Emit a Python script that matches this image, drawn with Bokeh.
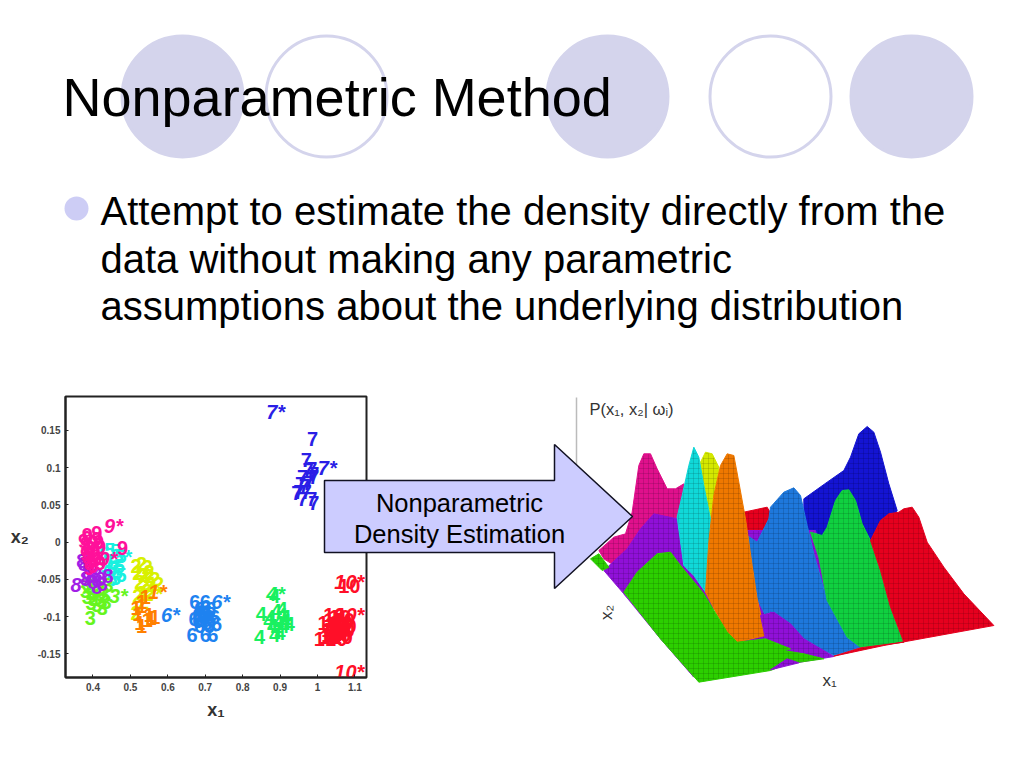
from bokeh.plotting import figure
from bokeh.layouts import column
from bokeh.models import FixedTicker
from bokeh.core.properties import value
from bokeh.embed import file_html
from bokeh.resources import INLINE

# ---- slide text
title = "Nonparametric Method"
body_lines = ["Attempt to estimate the density directly from the",
              "data without making any parametric",
              "assumptions about the underlying distribution"]
arrow_lines = ["Nonparametric", "Density Estimation"]

# ---- scatter classes (x1, x2, label)
c7x = [0.888, 1.026, 0.987, 0.97, 0.975, 0.985, 0.99, 0.96, 0.98, 0.965, 0.95, 0.97, 0.945, 0.96, 0.985, 0.99, 0.975, 0.955, 0.99]
c7y = [0.175, 0.100, 0.138, 0.110, 0.097, 0.098, 0.088, 0.088, 0.085, 0.075, 0.068, 0.068, 0.066, 0.058, 0.058, 0.052, 0.08, 0.078, 0.092]
c7t = ["7*", "7*"] + ["7"] * 17
c9x = [0.455, 0.44, 0.479, 0.41, 0.385, 0.40, 0.415, 0.38, 0.395, 0.42, 0.39, 0.405, 0.385, 0.41, 0.395, 0.375, 0.42, 0.40, 0.385, 0.41, 0.39, 0.405, 0.38]
c9y = [0.022, -0.022, -0.008, 0.012, 0.005, 0.0, 0.0, -0.002, -0.008, -0.006, -0.014, -0.015, -0.02, -0.022, -0.026, 0.002, -0.028, -0.032, 0.01, 0.004, -0.035, -0.011, -0.016]
c9t = ["9*", "9*"] + ["9"] * 21
c5x = [0.478, 0.445, 0.46, 0.475, 0.44, 0.455, 0.47, 0.45, 0.465, 0.44, 0.475, 0.46, 0.435, 0.45, 0.43]
c5y = [-0.02, -0.01, -0.012, -0.018, -0.025, -0.028, -0.032, -0.036, -0.04, -0.042, -0.044, -0.048, -0.034, -0.05, -0.016]
c5t = ["5*"] + ["5"] * 14
c8x = [0.365, 0.385, 0.375, 0.40, 0.385, 0.41, 0.395, 0.42, 0.40, 0.38, 0.425, 0.41, 0.44, 0.39, 0.37]
c8y = [-0.058, -0.022, -0.03, -0.034, -0.04, -0.044, -0.046, -0.05, -0.054, -0.05, -0.056, -0.06, -0.046, -0.016, -0.026]
c8t = ["8*"] + ["8"] * 14
c3x = [0.393, 0.468, 0.39, 0.405, 0.42, 0.38, 0.395, 0.41, 0.43, 0.385, 0.40, 0.42, 0.435, 0.41, 0.425, 0.395, 0.44, 0.385]
c3y = [-0.102, -0.072, -0.06, -0.058, -0.062, -0.066, -0.068, -0.066, -0.07, -0.074, -0.076, -0.078, -0.08, -0.084, -0.088, -0.082, -0.058, -0.056]
c3t = ["3", "3*"] + ["3"] * 16
c2x = [0.56, 0.515, 0.53, 0.545, 0.52, 0.535, 0.55, 0.565, 0.525, 0.54, 0.555, 0.575, 0.53, 0.545, 0.52, 0.535, 0.55, 0.515]
c2y = [-0.07, -0.032, -0.03, -0.034, -0.042, -0.044, -0.04, -0.05, -0.054, -0.056, -0.058, -0.056, -0.068, -0.066, -0.072, -0.08, -0.046, -0.095]
c2t = ["2*"] + ["2"] * 17
c1x = [0.572, 0.53, 0.555, 0.515, 0.53, 0.52, 0.54, 0.525, 0.55, 0.565, 0.53, 0.545]
c1y = [-0.067, -0.112, -0.102, -0.088, -0.08, -0.096, -0.074, -0.108, -0.098, -0.1, -0.086, -0.105]
c1t = ["1*"] + ["1"] * 11
c6x = [0.607, 0.741, 0.672, 0.665, 0.70, 0.72, 0.685, 0.70, 0.715, 0.68, 0.695, 0.71, 0.725, 0.69, 0.705, 0.67, 0.70, 0.73, 0.685, 0.69, 0.705, 0.715, 0.68, 0.695, 0.71]
c6y = [-0.098, -0.081, -0.08, -0.125, -0.125, -0.125, -0.09, -0.088, -0.09, -0.098, -0.097, -0.1, -0.1, -0.105, -0.108, -0.103, -0.08, -0.11, -0.112, -0.094, -0.094, -0.105, -0.106, -0.101, -0.112]
c6t = ["6*", "6*"] + ["6"] * 23
c4x = [0.888, 0.845, 0.885, 0.85, 0.875, 0.89, 0.905, 0.915, 0.87, 0.895, 0.91, 0.925, 0.885, 0.90, 0.89, 0.905, 0.88, 0.915]
c4y = [-0.07, -0.128, -0.072, -0.096, -0.1, -0.092, -0.09, -0.1, -0.106, -0.108, -0.112, -0.11, -0.125, -0.122, -0.117, -0.098, -0.112, -0.106]
c4t = ["4*"] + ["4"] * 17
c10x = [1.085, 1.085, 1.085, 1.085, 1.045, 1.06, 1.03, 1.05, 1.065, 1.075, 1.04, 1.055, 1.07, 1.02, 1.035, 1.05, 1.065, 1.045, 1.06, 1.04, 1.055, 1.07, 1.05, 1.06]
c10y = [-0.054, -0.059, -0.175, -0.098, -0.098, -0.1, -0.108, -0.11, -0.108, -0.112, -0.118, -0.12, -0.118, -0.13, -0.128, -0.13, -0.128, -0.105, -0.125, -0.125, -0.113, -0.105, -0.122, -0.115]
c10t = ["10*", "10", "10*", "10*"] + ["10"] * 20
classes = [(c5x, c5y, c5t, "#19f0e0"), (c3x, c3y, c3t, "#66f51e"), (c8x, c8y, c8t, "#a21ee6"),
           (c9x, c9y, c9t, "#ff109a"), (c2x, c2y, c2t, "#d8f000"), (c1x, c1y, c1t, "#ff8000"),
           (c6x, c6y, c6t, "#1e82f0"), (c4x, c4y, c4t, "#19f060"), (c10x, c10y, c10t, "#ff0f28"),
           (c7x, c7y, c7t, "#2a1ee6")]
xticks = [0.4, 0.5, 0.6, 0.7, 0.8, 0.9, 1.0, 1.1]
xlabels = ["0.4", "0.5", "0.6", "0.7", "0.8", "0.9", "1", "1.1"]
yticks = [0.15, 0.1, 0.05, 0.0, -0.05, -0.1, -0.15]
ylabels = ["0.15", "0.1", "0.05", "0", "-0.05", "-0.1", "-0.15"]

# ---- surface silhouettes
z3 = lambda pts: [(560 + a / 3, 385 + b / 3) for a, b in pts]
z4 = lambda pts: [(770 + a / 3, 410 + b / 3) for a, b in pts]
surface = [
    ("#1414d2", z4([(100, 265), (170, 215), (220, 180), (240, 140), (265, 70), (290, 48), (310, 65), (330, 125), (355, 220), (380, 300), (300, 400), (100, 400)])),
    ("#e6001e", z3([(550, 380), (620, 365), (640, 400), (590, 470), (560, 450)])),
    ("#9010d8", [(640, 570), (735, 620), (700, 670), (830, 650), (840, 640), (830, 590), (815, 530), (790, 530), (700, 530)]),
    ("#e0108c", z3([(115, 495), (160, 455), (195, 445), (215, 380), (235, 240), (250, 205), (270, 205), (290, 250), (320, 310), (345, 310), (370, 295), (375, 400), (300, 470), (170, 545), (130, 520)])),
    ("#9010d8", z3([(130, 555), (200, 490), (240, 430), (280, 385), (350, 400), (380, 560), (190, 625)])),
    ("#d4e800", z3([(420, 230), (435, 200), (455, 205), (475, 245), (470, 330), (450, 430), (430, 340)])),
    ("#10d8d8", z3([(350, 395), (365, 330), (385, 240), (400, 185), (415, 215), (430, 300), (450, 400), (445, 530), (435, 620), (400, 570), (370, 540)])),
    ("#1e78dc", z3([(560, 450), (590, 470), (625, 400)]) + z4([(0, 290), (40, 245), (70, 232), (90, 255), (110, 345), (130, 430), (170, 570), (230, 680), (270, 710), (190, 735), (100, 690), (0, 600)]) + z3([(620, 700), (580, 620), (575, 540)])),
    ("#ef7800", z3([(435, 620), (445, 470), (460, 330), (480, 240), (500, 205), (520, 210), (535, 290), (555, 400), (575, 540), (590, 640), (615, 750), (530, 770), (500, 745)])),
    ("#9010d8", z3([(600, 690), (640, 680), (690, 715)]) + z4([(100, 685), (190, 738), (60, 760), (0, 720)]) + z3([(615, 760)])),
    ("#9010d8", z3([(190, 625), (290, 735), (400, 875), (300, 760)])),
    ("#2ccf00", z3([(190, 620), (230, 560), (290, 505), (330, 500), (360, 540), (430, 625), (500, 740), (530, 770), (615, 760), (690, 790)]) + z4([(40, 720), (100, 730), (160, 745), (50, 760), (0, 780)]) + z3([(415, 890), (300, 760)])),
    ("#2ccf00", z3([(90, 520), (115, 505), (145, 545), (125, 555)])),
    ("#9010d8", z4([(0, 778), (50, 745), (85, 757)])),
    ("#10d040", z4([(120, 365), (155, 375), (170, 350), (195, 270), (215, 240), (235, 238), (255, 270), (275, 340), (300, 390), (330, 480), (360, 590), (400, 695), (270, 710), (230, 680), (170, 570), (145, 440)])),
    ("#e6001e", z4([(190, 737), (270, 712), (400, 695), (360, 590), (330, 480), (300, 390), (330, 330), (355, 310), (385, 305), (400, 295), (425, 290), (445, 320), (470, 395), (520, 470), (580, 550), (670, 645), (340, 705)])),
]
mesh = {"#1414d2": "#05056e", "#e6001e": "#7a0010", "#e0108c": "#70084a", "#9010d8": "#480870", "#d4e800": "#707a00",
        "#10d8d8": "#087070", "#1e78dc": "#0a3c70", "#ef7800": "#7a3c00", "#2ccf00": "#166800", "#10d040": "#086820"}
circle_x = [182, 326, 607, 770, 911]
circle_filled = [True, False, True, False, True]
arrow_px = [(324, 480), (554, 480), (554, 444), (632, 516), (554, 588), (554, 552), (324, 552)]

# ---- scatter figure (frame 65..366 x 396..677 on the page)
TOP = 383
sc = figure(width=360, height=345, frame_width=301, frame_height=281, output_backend="svg", toolbar_location=None,
            x_range=(0.3265, 1.131), y_range=(-0.1818, 0.1956), margin=(TOP, 0, 0, 7), frame_align=False,
            min_border_left=57, min_border_top=13, min_border_right=2, min_border_bottom=5,
            x_axis_label="x\u2081", y_axis_label="x\u2082", background_fill_color=None, border_fill_color=None)
sc.grid.visible = False
sc.outline_line_color = "#222222"
sc.outline_line_width = 2
for ax, t, l in ((sc.xaxis[0], xticks, xlabels), (sc.yaxis[0], yticks, ylabels)):
    ax.ticker = FixedTicker(ticks=t)
    ax.major_label_overrides = dict(zip(t, l))
    ax.minor_tick_line_color = None
    ax.major_tick_in, ax.major_tick_out = 3, 0
    ax.axis_line_color = "#222222"
    ax.axis_line_width = 2
    ax.major_tick_line_color = "#222222"
    ax.major_label_text_font = "Liberation Sans"
    ax.major_label_text_font_size = "10px"
    ax.major_label_text_font_style = "bold"
    ax.major_label_text_color = "#444444"
    ax.axis_label_text_font = "Liberation Sans"
    ax.axis_label_text_font_size = "18px"
    ax.axis_label_text_font_style = "bold"
    ax.axis_label_text_color = "#333333"
sc.yaxis[0].axis_label_orientation = "horizontal"
sc.xaxis[0].axis_label_standoff = 6
sc.yaxis[0].axis_label_standoff = 6
for xs, ys, ts, col in classes:
    plain = [i for i, t in enumerate(ts) if "*" not in t]
    star = [i for i, t in enumerate(ts) if "*" in t]
    for idx, style in ((plain, "bold"), (star, "bold italic")):
        sc.text([xs[i] for i in idx], [ys[i] for i in idx], text=[ts[i] for i in idx], text_color=col,
                text_font=value("Liberation Sans"), text_font_size="20px", text_font_style=style,
                text_align="center", text_baseline="middle")

# ---- transparent page overlay, in page pixels
p = figure(width=1008, height=752, x_range=(0, 1008), y_range=(752, 0), output_backend="svg", toolbar_location=None,
           margin=(-(TOP + 339), 0, 0, 0), frame_align=False, min_border=0,
           background_fill_color=None, border_fill_color=None, outline_line_color=None)
p.axis.visible = False
p.grid.visible = False
for cx, f in zip(circle_x, circle_filled):
    p.ellipse([cx], [96], width=121, height=121, fill_color="#d4d4ec" if f else None, line_color="#d4d4ec", line_width=3)
p.text([62], [96], text=[title], text_font=value("Liberation Sans"), text_font_size="54px", text_color="black", text_baseline="middle")
p.ellipse([76], [208], width=24, height=24, fill_color="#cdcdf5", line_color=None)
for yy, line in zip([210, 258, 305], body_lines):
    p.text([100], [yy], text=[line], text_font=value("Liberation Sans"), text_font_size="40px", text_color="black", text_baseline="middle")
p.segment([576], [397], [576], [490], line_color="#bbbbbb", line_width=1.5)
p.text([589], [408], text=["P(x\u2081, x\u2082| \u03c9\u1d62)"], text_font=value("Liberation Sans"), text_font_size="16.5px", text_color="#333333", text_baseline="middle")
for col, pts in surface:
    p.patch([a for a, b in pts], [b for a, b in pts], fill_color=col, line_color=col, line_width=1,
            hatch_pattern="cross", hatch_scale=5, hatch_weight=0.6, hatch_color=mesh[col], hatch_alpha=0.45)
p.text([829], [680], text=["x\u2081"], text_font=value("Liberation Sans"), text_font_size="17px", text_color="#333333", text_align="center", text_baseline="middle")
p.text([606], [612], text=["x\u2082"], angle=[1.57], text_font=value("Liberation Sans"), text_font_size="17px", text_color="#333333", text_align="center", text_baseline="middle")
p.patch([a for a, b in arrow_px], [b for a, b in arrow_px], fill_color="#ccccff", line_color="#111122", line_width=1.5)
for yy, line in zip([502, 533], arrow_lines):
    p.text([459], [yy], text=[line], text_font=value("Liberation Sans"), text_font_size="25.5px", text_color="black", text_align="center", text_baseline="middle")

page = column(sc, p)
open("out.html", "w").write(file_html(page, INLINE))
